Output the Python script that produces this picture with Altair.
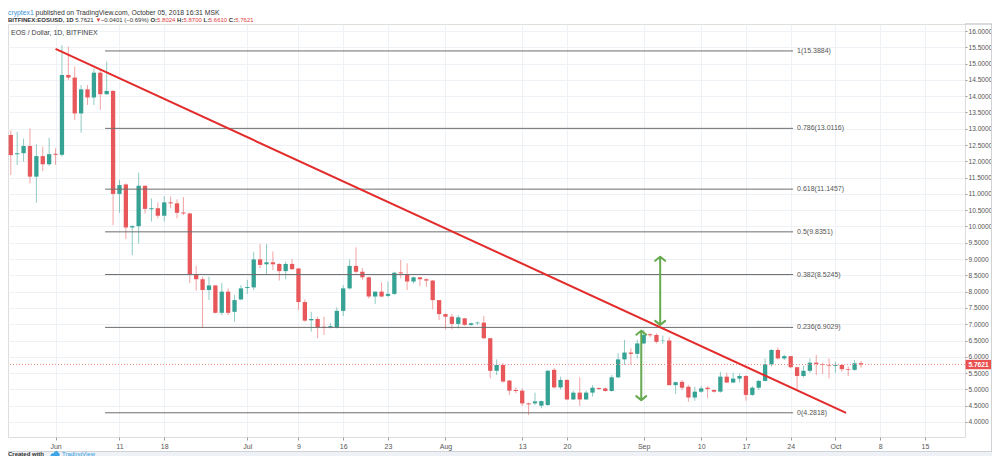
import altair as alt
import pandas as pd
import numpy as np

# ---------------- data ----------------
dates = [d.strftime("%Y-%m-%d") for d in pd.date_range("2018-05-25", "2018-10-05", freq="D")]

opens = [12.81, 12.22, 12.25, 12.47, 11.53, 12.16, 11.91, 12.23,
         12.20, 14.65, 14.57, 13.47, 14.21, 13.96, 14.72, 14.06, 14.16, 11.00, 11.29, 9.97, 10.01, 11.25,
         10.53, 10.56, 10.33, 10.74, 10.71, 10.43, 10.40,
         8.54, 8.38, 8.05, 8.19, 7.35, 8.00, 7.38, 7.76, 8.11, 8.13, 8.99, 8.84, 8.90, 8.85, 8.63, 8.85,
         8.71, 7.68, 7.12, 7.16, 6.92, 6.90, 6.90, 7.41, 8.10, 8.79, 8.61, 8.44, 7.85, 8.00, 7.87, 7.93,
         8.59, 8.54, 8.31, 8.44, 8.38, 8.34, 7.74, 7.31,
         7.23, 7.01, 7.18, 6.98, 7.03, 7.05, 6.57, 5.57, 5.75, 5.27, 4.98, 4.96, 4.57, 4.57, 4.50, 4.52,
         5.60, 5.06, 5.29, 4.69, 4.90, 4.69, 4.90, 5.04, 5.03, 4.95, 5.37, 5.92, 6.13, 6.09, 6.41, 6.69, 6.67,
         6.49, 6.50, 5.13, 5.23, 5.08, 4.75, 4.93, 5.05, 4.98, 4.93, 5.39, 5.21, 5.33, 5.41, 4.83, 5.05,
         5.26, 5.77, 6.21, 5.95, 6.02, 5.68, 5.41, 5.57, 5.82, 5.77, 5.75, 5.72, 5.75, 5.62, 5.60, 5.8024]
highs = [12.95, 12.91, 12.70, 13.01, 12.52, 12.45, 12.72, 12.40,
         15.57, 15.52, 14.91, 14.34, 14.34, 14.85, 14.80, 15.06, 14.19, 11.43, 11.32, 10.04, 11.65, 11.26,
         10.86, 10.74, 10.93, 10.92, 10.83, 10.90, 10.42,
         8.79, 8.46, 8.46, 8.20, 8.26, 8.10, 7.90, 8.20, 8.36, 9.21, 9.46, 9.46, 9.23, 8.87, 8.92, 9.00,
         8.72, 7.76, 7.38, 7.23, 7.23, 7.03, 7.52, 8.20, 8.99, 9.36, 8.72, 8.46, 8.00, 8.28, 8.31, 8.61,
         8.97, 8.87, 8.46, 8.44, 8.41, 8.36, 7.74, 7.33,
         7.31, 7.28, 7.19, 7.05, 7.08, 7.25, 6.57, 5.92, 5.80, 5.29, 5.06, 5.03, 4.59, 4.90, 4.66, 5.60,
         5.65, 5.39, 5.31, 4.96, 5.37, 4.96, 5.13, 5.06, 5.06, 5.44, 6.11, 6.52, 6.26, 6.52, 6.82, 6.72, 6.72,
         6.65, 6.60, 5.24, 5.29, 5.13, 5.08, 5.10, 5.10, 5.00, 5.54, 5.51, 5.51, 5.49, 5.44, 5.10,
         5.29, 5.95, 6.23, 6.29, 6.06, 6.02, 5.68, 5.72, 5.95, 6.06, 5.82, 5.95, 5.85, 5.78, 5.70, 5.90, 5.87]
lows = [11.58, 11.89, 11.99, 11.32, 10.73, 11.70, 11.86, 11.89,
        12.14, 14.50, 13.27, 12.88, 13.73, 13.73, 13.58, 14.04, 10.04, 10.42, 9.61, 9.12, 9.48, 10.40,
        10.15, 10.25, 10.15, 10.56, 10.25, 10.35, 8.26,
        8.03, 6.90, 7.74, 7.33, 7.28, 7.28, 7.08, 7.74, 7.93, 8.05, 8.72, 8.54, 8.66, 8.34, 8.38, 8.66,
        7.44, 7.08, 6.77, 6.57, 6.67, 6.87, 6.87, 7.25, 8.07, 8.56, 8.36, 7.79, 7.62, 7.83, 7.83, 7.90,
        8.41, 8.05, 8.25, 8.17, 8.15, 7.46, 7.13, 6.84,
        6.84, 6.87, 6.95, 6.95, 6.98, 6.54, 5.34, 5.44, 5.21, 4.83, 4.88, 4.49, 4.21, 4.52, 4.42, 4.49,
        5.03, 5.00, 4.67, 4.67, 4.49, 4.67, 4.78, 4.98, 4.93, 4.93, 5.34, 5.75, 5.75, 5.95, 6.39, 6.60, 6.41,
        6.40, 5.12, 4.86, 4.98, 4.62, 4.65, 4.90, 4.73, 4.90, 4.90, 5.19, 5.19, 5.21, 4.65, 4.80,
        4.98, 5.24, 5.70, 5.92, 5.90, 5.65, 5.00, 5.37, 5.51, 5.44, 5.47, 5.34, 5.51, 5.54, 5.41, 5.57, 5.661]
closes = [12.19, 12.25, 12.47, 11.53, 12.16, 11.91, 12.22, 12.20,
          14.65, 14.57, 13.47, 14.21, 13.96, 14.72, 14.06, 14.16, 11.00, 11.27, 9.97, 10.01, 11.25, 10.54,
          10.56, 10.33, 10.74, 10.71, 10.42, 10.40, 8.54,
          8.38, 8.05, 8.19, 7.35, 8.00, 7.35, 7.74, 8.10, 8.14, 8.99, 8.82, 8.90, 8.84, 8.63, 8.85, 8.69,
          7.68, 7.11, 7.16, 6.90, 6.89, 6.94, 7.41, 8.10, 8.79, 8.61, 8.44, 7.85, 8.00, 7.85, 7.93, 8.58,
          8.56, 8.31, 8.44, 8.38, 8.34, 7.74, 7.31, 7.23,
          7.01, 7.21, 6.98, 7.03, 7.05, 6.57, 5.57, 5.75, 5.24, 4.96, 4.95, 4.57, 4.54, 4.63, 4.64, 5.57,
          5.06, 5.29, 4.69, 4.90, 4.69, 4.90, 5.05, 5.01, 4.95, 5.37, 5.92, 6.13, 6.09, 6.41, 6.67, 6.66, 6.46,
          6.50, 5.13, 5.22, 5.05, 4.75, 4.93, 5.03, 5.01, 4.93, 5.39, 5.21, 5.33, 5.41, 4.83, 5.05,
          5.26, 5.77, 6.21, 5.95, 6.02, 5.68, 5.41, 5.57, 5.82, 5.78, 5.75, 5.73, 5.75, 5.62, 5.60, 5.80, 5.7621]

fib_labels = ["0(4.2818)", "0.236(6.9029)", "0.382(8.5245)", "0.5(9.8351)",
              "0.618(11.1457)", "0.786(13.0116)", "1(15.3884)"]
fib_prices = [4.2818, 6.9029, 8.5245, 9.8351, 11.1457, 13.0116, 15.3884]
fib_start = "2018-06-08T18:00"
fib_end = "2018-09-24T09:00"

trend_dates = ["2018-06-01T00:00", "2018-10-02T16:00"]
trend_prices = [15.45, 4.28]

arrow_dates = ["2018-08-31T15:00", "2018-09-03T14:00"]
arrow_lows = [4.67, 6.98]
arrow_highs = [6.80, 9.07]

last_price = 5.7621

tick_dates = ["2018-06-01", "2018-06-11", "2018-06-18", "2018-07-01", "2018-07-09", "2018-07-16",
              "2018-07-23", "2018-08-01", "2018-08-13", "2018-08-20", "2018-09-01", "2018-09-10",
              "2018-09-17", "2018-09-24", "2018-10-01", "2018-10-08", "2018-10-15"]
tick_labels = ["Jun", "11", "18", "Jul", "9", "16", "23", "Aug", "13", "20", "Sep", "10",
               "17", "24", "Oct", "8", "15"]
price_ticks = [4.0, 4.5, 5.0, 5.5, 6.0, 6.5, 7.0, 7.5, 8.0, 8.5, 9.0, 9.5, 10.0, 10.5, 11.0,
               11.5, 12.0, 12.5, 13.0, 13.5, 14.0, 14.5, 15.0, 15.5, 16.0]

# ---------------- styling ----------------
GREEN = "#35a294"
RED = "#e8575a"
TREND = "#e32b2b"
ARROW = "#66a94e"
FIB = "#6d6d6d"
TXT = "#555555"
FONT = "Liberation Sans"
W, H = 957, 413
PAD_RIGHT = 27
PAD_BOTTOM = 19
BOT = H + PAD_BOTTOM   # lowest drawable y in plot coordinates
RIGHT = W + PAD_RIGHT  # right-most drawable x in plot coordinates


def ts(s):
    return int(pd.Timestamp(s, tz="UTC").value // 10**6)


xscale = alt.Scale(type="utc", domain=[ts("2018-05-25T08:15"), ts("2018-10-20T11:40")])
yscale = alt.Scale(domain=[3.538, 16.215], zero=False, nice=False)

label_expr = "".join(
    f"utcFormat(datum.value, '%Y-%m-%d') == '{d}' ? '{l}' : " for d, l in zip(tick_dates, tick_labels)
) + "''"

xaxis = alt.Axis(values=[ts(d) for d in tick_dates], labelExpr=label_expr, title=None,
                 grid=True, gridColor="#eef1f5", domain=False, tickColor="#9a9a9a", tickSize=3,
                 labelPadding=2, labelFontSize=7, labelColor=TXT, labelFont=FONT)
yaxis = alt.Axis(values=price_ticks, format=".4f", orient="right", title=None,
                 grid=True, gridColor="#eef1f5", domain=False, tickColor="#9a9a9a", tickSize=2,
                 labelPadding=1, labelFontSize=6.6, labelColor=TXT, labelFont=FONT)


def X(field):
    return alt.X(field, scale=xscale, axis=xaxis)


def Y(field):
    return alt.Y(field, scale=yscale, axis=yaxis)


df = pd.DataFrame({"t": [ts(d) for d in dates], "open": opens, "high": highs,
                   "low": lows, "close": closes})
df["dir"] = np.where(df["close"] >= df["open"], "up", "down")

color = alt.Color("dir:N", scale=alt.Scale(domain=["up", "down"], range=[GREEN, RED]), legend=None)

base = alt.Chart(df)
wicks = base.mark_rule(strokeWidth=1, opacity=0.55, clip=True).encode(
    x=X("t:T"), y=Y("low:Q"), y2="high:Q", color=color,
)
bodies = base.mark_bar(size=4.3, clip=True).encode(
    x=X("t:T"), y=Y("open:Q"), y2="close:Q", color=color,
)

fib_df = pd.DataFrame({"t1": [ts(fib_start)] * len(fib_prices), "t2": [ts(fib_end)] * len(fib_prices),
                       "p": fib_prices, "label": fib_labels})
fib_lines = alt.Chart(fib_df).mark_rule(color=FIB, strokeWidth=1).encode(
    x=X("t1:T"), x2="t2:T", y=Y("p:Q"),
)
fib_text = alt.Chart(fib_df).mark_text(align="left", baseline="middle", dx=4, fontSize=7,
                                       color=TXT, font=FONT).encode(
    x=X("t2:T"), y=Y("p:Q"), text="label:N",
)

last_df = pd.DataFrame({"p": [last_price], "txt": [f"{last_price:.4f}"]})
last_line = alt.Chart(last_df).mark_rule(color="#f08a8a", strokeWidth=1, strokeDash=[1, 2]).encode(
    y=Y("p:Q"),
)

trend_df = pd.DataFrame({"t": [ts(d) for d in trend_dates], "p": trend_prices})
trend = alt.Chart(trend_df).mark_line(color=TREND, strokeWidth=2).encode(
    x=X("t:T"), y=Y("p:Q"),
)

arr_df = pd.DataFrame({"t": [ts(d) for d in arrow_dates], "lo": arrow_lows, "hi": arrow_highs})
arrow_shaft = alt.Chart(arr_df).mark_rule(color=ARROW, strokeWidth=2).encode(
    x=X("t:T"), y=Y("lo:Q"), y2="hi:Q",
)
arrow_top = alt.Chart(arr_df).mark_point(shape="M-1,0.8L0,0L1,0.8", filled=False, size=100,
                                         color=ARROW, strokeWidth=2, opacity=1, strokeCap="round",
                                         strokeJoin="round").encode(
    x=X("t:T"), y=Y("hi:Q"),
)
arrow_bot = alt.Chart(arr_df).mark_point(shape="M-1,-0.8L0,0L1,-0.8", filled=False, size=100,
                                         color=ARROW, strokeWidth=2, opacity=1, strokeCap="round",
                                         strokeJoin="round").encode(
    x=X("t:T"), y=Y("lo:Q"),
)

BOX_X = W + 13.5
price_box = alt.Chart(last_df).mark_point(shape="M-1,-0.36H1V0.36H-1Z", filled=True, size=676,
                                          color="#e9504f", opacity=1).encode(
    x=alt.value(BOX_X), y=Y("p:Q"),
)
price_txt = alt.Chart(last_df).mark_text(fontSize=6.6, color="white", font=FONT, fontWeight="bold").encode(
    x=alt.value(BOX_X), y=Y("p:Q"), text="txt:N",
)

# ---------------- frame / panel decorations ----------------
one = pd.DataFrame({"a": [0]})
PANEL_B = 427.5
footer_bg = alt.Chart(one).mark_rect(color="#eef1f6").encode(
    x=alt.value(0), x2=alt.value(RIGHT), y=alt.value(PANEL_B), y2=alt.value(BOT))
panel_bottom = alt.Chart(one).mark_rule(color="#cfd3d8").encode(
    x=alt.value(0), x2=alt.value(RIGHT), y=alt.value(PANEL_B))
panel_right = alt.Chart(one).mark_rule(color="#cfd3d8").encode(
    x=alt.value(RIGHT - 0.5), y=alt.value(0), y2=alt.value(PANEL_B))
panel_top = alt.Chart(one).mark_rule(color="#b4b7bd").encode(
    x=alt.value(W), x2=alt.value(RIGHT), y=alt.value(0))

# ---------------- texts ----------------
AW = {c: 0.556 for c in "0123456789abdeghnopqu"}
AW.update({".": 0.278, ",": 0.278, ":": 0.278, " ": 0.278, "(": 0.333, ")": 0.333, "%": 0.889,
           "\u2212": 0.584, "-": 0.333, "\u25bc": 0.62,
           "c": 0.5, "k": 0.5, "s": 0.5, "v": 0.5, "x": 0.5, "y": 0.5, "z": 0.5,
           "f": 0.278, "t": 0.278, "i": 0.222, "j": 0.222, "l": 0.222, "r": 0.333, "m": 0.833, "w": 0.722,
           "I": 0.278, "O": 0.778, "C": 0.722, "D": 0.722, "H": 0.722, "N": 0.722, "U": 0.722,
           "L": 0.556, "T": 0.611, "F": 0.611, "M": 0.833, "V": 0.667, "K": 0.667})
BW = dict(AW)
BW.update({":": 0.333, "O": 0.778, "B": 0.722})


def width(s, fs, bold=False):
    tab = BW if bold else AW
    return sum(tab.get(c, 0.667 if c.isupper() else 0.556) for c in s) * fs


def seg_chart(segs, y, fs):
    layers = []
    x = 0.0
    for txt, col, bold, gap in segs:
        layers.append(alt.Chart(pd.DataFrame({"txt": [txt]})).mark_text(
            align="left", baseline="alphabetic", fontSize=fs, font=FONT, color=col,
            fontWeight="bold" if bold else "normal").encode(
            x=alt.value(round(x, 1)), y=alt.value(y), text="txt:N"))
        x += width(txt, fs, bold) + gap * fs
    return layers


DARK = "#333333"
VAL = "#e2403d"
line1 = seg_chart([("cryptex1", "#3a93d6", False, 0.278),
                   ("published on TradingView.com, October 05, 2018 16:31 MSK", DARK, False, 0)],
                  -9.5, 6.8)
line2 = seg_chart([("BITFINEX:EOSUSD, 1D", DARK, True, 0.278),
                   ("5.7621", DARK, False, 0.278),
                   ("\u25bc", VAL, False, 0.278),
                   ("\u22120.0401 (\u22120.69%)", DARK, False, 0.278),
                   ("O:", DARK, True, 0), ("5.8024", VAL, False, 0.278),
                   ("H:", DARK, True, 0), ("5.8700", VAL, False, 0.278),
                   ("L:", DARK, True, 0), ("5.6610", VAL, False, 0.278),
                   ("C:", DARK, True, 0), ("5.7621", VAL, False, 0)],
                  -1.8, 6.0)

title_txt = alt.Chart(pd.DataFrame({"txt": ["EOS / Dollar, 1D, BITFINEX"]})).mark_text(
    align="left", baseline="middle", fontSize=7, font=FONT, color="#444444").encode(
    x=alt.value(3), y=alt.value(9), text="txt:N")

FOOT_Y = BOT - 2.5
footer1 = alt.Chart(pd.DataFrame({"txt": ["Created with"]})).mark_text(
    align="left", baseline="middle", fontSize=6, font=FONT, color=DARK, fontWeight="bold").encode(
    x=alt.value(0), y=alt.value(FOOT_Y), text="txt:N")
logo = alt.Chart(one).mark_point(
    shape="M-1,0.6C-1.1,0.1-0.6,-0.2-0.3,0C-0.2,-0.7,0.7,-0.8,0.8,-0.1C1.2,0,1.1,0.6,0.8,0.6Z",
    filled=True, size=80, color="#3ba5e6", opacity=1).encode(x=alt.value(47), y=alt.value(FOOT_Y))
footer2 = alt.Chart(pd.DataFrame({"txt": ["TradingView"]})).mark_text(
    align="left", baseline="middle", fontSize=6, font=FONT, color="#2e9cdb").encode(
    x=alt.value(54), y=alt.value(FOOT_Y), text="txt:N")

chart = alt.layer(
    wicks, bodies, fib_lines, fib_text, last_line, trend,
    arrow_shaft, arrow_top, arrow_bot, price_box, price_txt,
    footer_bg, panel_bottom, panel_right, panel_top,
    title_txt, footer1, logo, footer2, *line1, *line2,
).properties(
    width=W, height=H,
    autosize=alt.AutoSizeParams(type="none"),
    padding={"left": 0, "top": 16, "right": PAD_RIGHT, "bottom": PAD_BOTTOM},
).configure_view(
    stroke="#b4b7bd", strokeWidth=1,
).configure(
    background="white",
)

chart.save("out.html", embed_options={"renderer": "svg", "actions": False})
